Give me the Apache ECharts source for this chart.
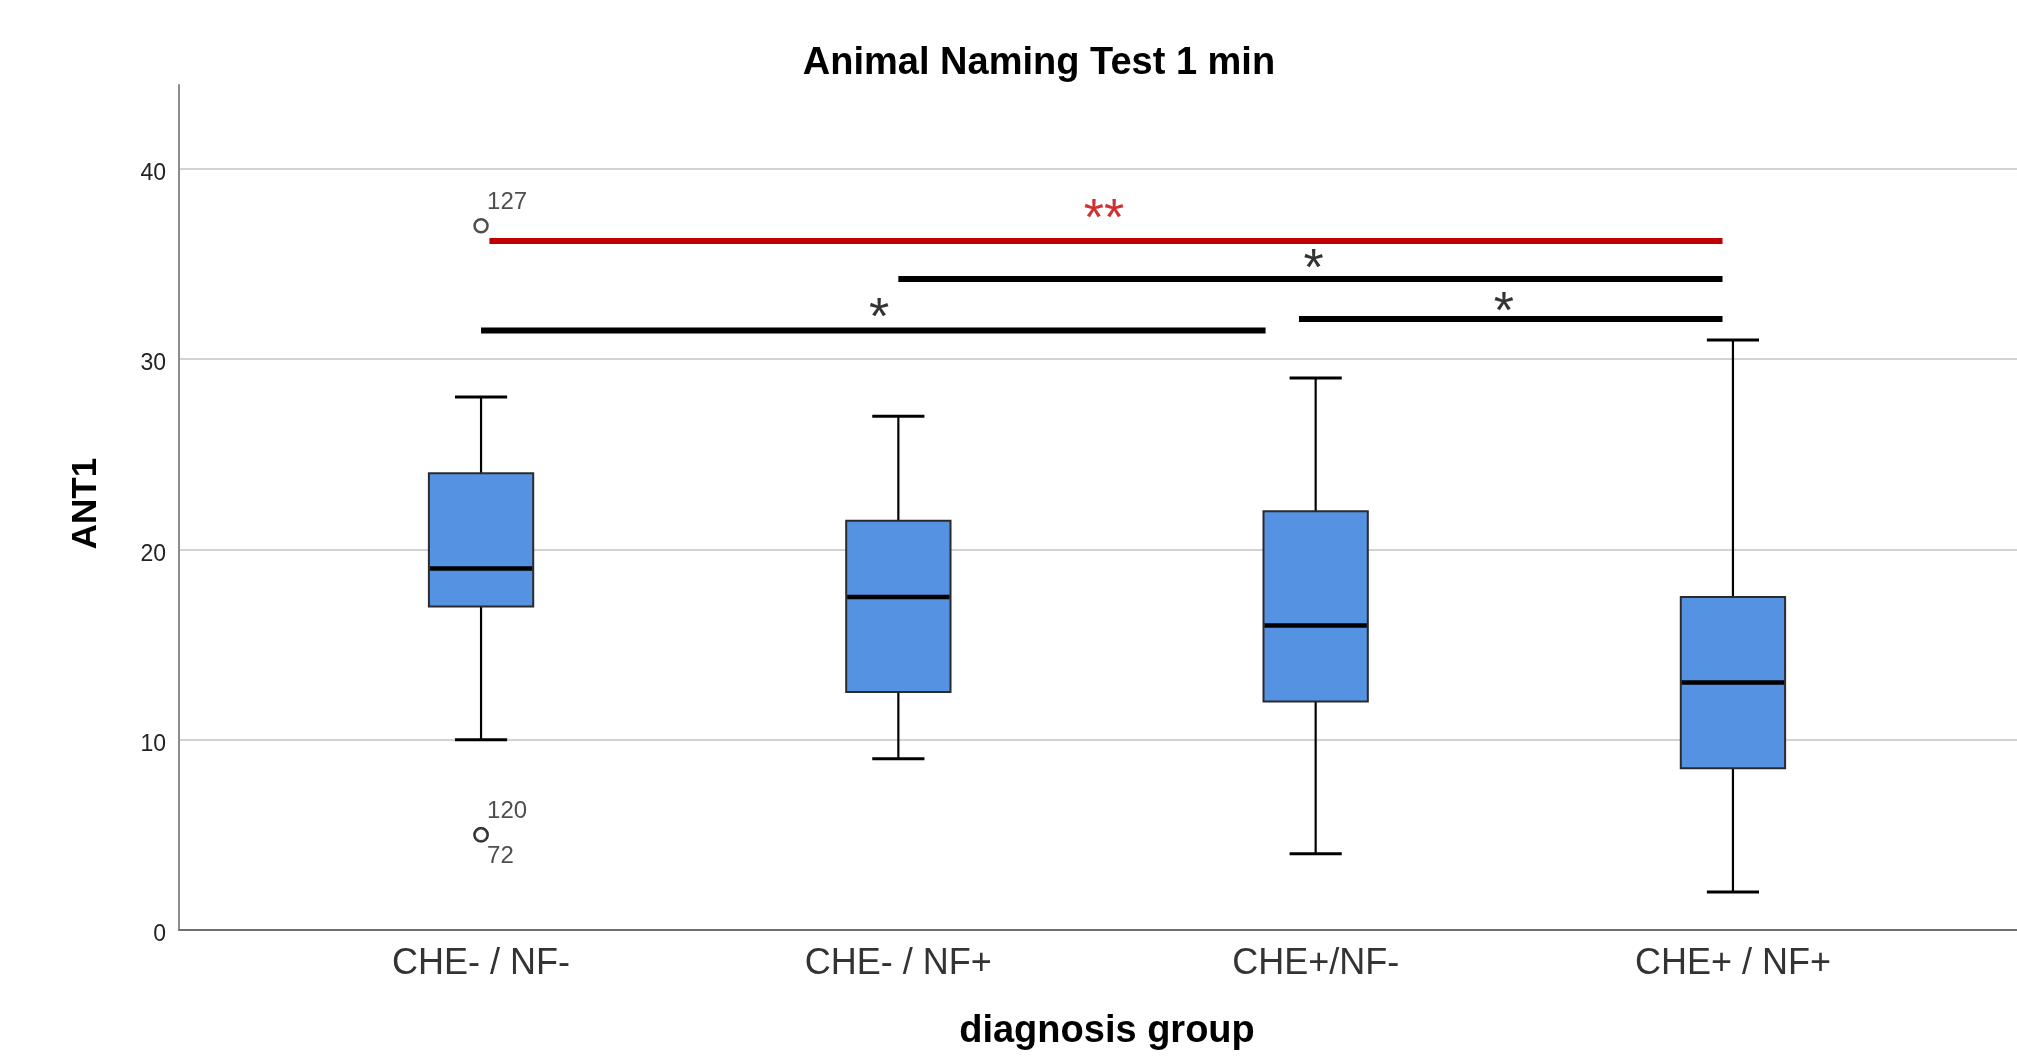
<!DOCTYPE html>
<html>
<head>
<meta charset="utf-8">
<script src="https://cdn.jsdelivr.net/npm/echarts@6/dist/echarts.min.js"></script>
<style>
html,body{margin:0;padding:0;background:#fff;}
#c{width:2017px;height:1061px;}
</style>
</head>
<body>
<div id="c"></div>
<script>
// ---- data ----
const categories = ['CHE- / NF-', 'CHE- / NF+', 'CHE+/NF-', 'CHE+ / NF+'];
const whiskerLow  = [10, 9, 4, 2];
const q1          = [17, 12.5, 12, 8.5];
const median      = [19, 17.5, 16, 13];
const q3          = [24, 21.5, 22, 17.5];
const whiskerHigh = [28, 27, 29, 31];

const outlierGroup = [0, 0, 0];
const outlierValue = [37, 5, 5];
const outlierId    = ['127', '120', '72'];

const yTickValues = [0, 10, 20, 30, 40];

// significance bars (x in category-index units, y in ANT1 units)
const sigStart = [0.02, 1.0, 1.96, 0.0];
const sigEnd   = [2.975, 2.975, 2.975, 1.88];
const sigLevel = [36.2, 34.2, 32.1, 31.5];
const sigMark  = ['**', '*', '*', '*'];
const sigMarkX = [1.493, 1.995, 2.451, 0.954];
const sigMarkY = [37.98, 35.35, 33.09, 32.74];
const sigColor = ['#c00000', '#000000', '#000000', '#000000'];

// ---- chart ----
const FONT = '"Liberation Sans", Arial, sans-serif';
const Y_MAX = 44.4;
const chart = echarts.init(document.getElementById('c'), null, {renderer: 'canvas'});

const boxData = categories.map((c, i) => [i, whiskerLow[i], q1[i], median[i], q3[i], whiskerHigh[i]]);
const outlierData = outlierId.map((id, k) => ({
  value: [outlierGroup[k], outlierValue[k]],
  name: id,
  label: {offset: k === 2 ? [6, 22] : [6, -23]}
}));

const sigSeries = sigLevel.map((lv, k) => ({
  type: 'line',
  xAxisIndex: 2, yAxisIndex: 1,
  data: [[sigStart[k], lv], [sigEnd[k], lv]],
  symbol: 'none',
  lineStyle: {color: sigColor[k], width: 6, cap: 'butt'},
  silent: true, z: 4
}));

const sigTextSeries = {
  type: 'scatter',
  xAxisIndex: 2, yAxisIndex: 1,
  symbolSize: 0,
  data: sigMark.map((m, k) => ({
    value: [sigMarkX[k], sigMarkY[k]],
    name: m,
    label: {color: sigColor[k]}
  })),
  label: {
    show: true, position: 'inside',
    formatter: p => p.name,
    fontFamily: FONT, fontSize: 52, align: 'center', verticalAlign: 'middle',
    offset: [0, 13]
  },
  silent: true, z: 5
};

const option = {
  backgroundColor: '#ffffff',
  animation: false,
  title: {
    text: 'Animal Naming Test 1 min',
    left: 1039, top: 45, padding: 0,
    textAlign: 'center', textVerticalAlign: 'top',
    textStyle: {fontFamily: FONT, fontSize: 38, fontWeight: 'bold', color: '#000'}
  },
  grid: [
    {left: 179, right: 0, top: 85, bottom: 131},
    {left: 272.4, right: 75.4, top: 85, bottom: 131}
  ],
  xAxis: [
    {
      gridIndex: 0, type: 'value', min: 0, max: 1,
      axisLine: {show: true, lineStyle: {color: '#707070', width: 2}},
      axisTick: {show: false}, axisLabel: {show: false}, splitLine: {show: false}
    },
    {
      gridIndex: 1, type: 'category', data: categories,
      axisLine: {show: false}, axisTick: {show: false}, splitLine: {show: false},
      axisLabel: {fontFamily: FONT, fontSize: 36, color: '#333', margin: 16},
      name: 'diagnosis group', nameLocation: 'middle', nameGap: 83,
      nameTextStyle: {fontFamily: FONT, fontSize: 38, fontWeight: 'bold', color: '#000', verticalAlign: 'top'}
    },
    {
      gridIndex: 1, type: 'value', min: -0.5, max: 3.5, show: false
    }
  ],
  yAxis: [
    {
      gridIndex: 0, type: 'value', min: yTickValues[0], max: Y_MAX, interval: 10,
      axisLine: {show: true, lineStyle: {color: '#8c8c8c', width: 2}},
      axisTick: {show: false},
      axisLabel: {
        fontFamily: FONT, fontSize: 23, color: '#222', margin: 13,
        showMaxLabel: false, verticalAlign: 'top', lineHeight: 10,
        formatter: v => (yTickValues.indexOf(v) >= 0 ? String(v) : '')
      },
      splitLine: {show: true, showMaxLine: false, showMinLine: false, lineStyle: {color: '#d2d2d2', width: 2}},
      name: 'ANT1', nameLocation: 'middle', nameGap: 93, nameRotate: 90,
      nameTextStyle: {fontFamily: FONT, fontSize: 35, fontWeight: 'bold', color: '#000', verticalAlign: 'middle', padding: [0, 0, 0, 8]}
    },
    {
      gridIndex: 1, type: 'value', min: yTickValues[0], max: Y_MAX, show: false
    }
  ],
  series: [
    {
      type: 'custom',
      xAxisIndex: 1, yAxisIndex: 1,
      data: boxData,
      encode: {x: 0, y: [1, 2, 3, 4, 5]},
      z: 3,
      renderItem: function (params, api) {
        const i = api.value(0);
        const band = api.size([1, 0])[0];
        const bw = band * 0.25;
        const cw = bw / 2;
        const pLow = api.coord([i, api.value(1)]);
        const pQ1 = api.coord([i, api.value(2)]);
        const pMed = api.coord([i, api.value(3)]);
        const pQ3 = api.coord([i, api.value(4)]);
        const pHigh = api.coord([i, api.value(5)]);
        const x = pMed[0];
        const black = {stroke: '#000', lineWidth: 2.2};
        return {
          type: 'group',
          children: [
            {type: 'line', shape: {x1: x, y1: pLow[1], x2: x, y2: pQ1[1]}, style: black},
            {type: 'line', shape: {x1: x, y1: pQ3[1], x2: x, y2: pHigh[1]}, style: black},
            {type: 'line', shape: {x1: x - cw / 2, y1: pLow[1], x2: x + cw / 2, y2: pLow[1]}, style: {stroke: '#000', lineWidth: 3}},
            {type: 'line', shape: {x1: x - cw / 2, y1: pHigh[1], x2: x + cw / 2, y2: pHigh[1]}, style: {stroke: '#000', lineWidth: 3}},
            {type: 'rect', shape: {x: x - bw / 2, y: pQ3[1], width: bw, height: pQ1[1] - pQ3[1]},
              style: {fill: '#5592e2', stroke: '#2b2b2b', lineWidth: 2}},
            {type: 'line', shape: {x1: x - bw / 2 + 1, y1: pMed[1], x2: x + bw / 2 - 1, y2: pMed[1]}, style: {stroke: '#000', lineWidth: 4.5}}
          ]
        };
      }
    },
    {
      type: 'scatter',
      xAxisIndex: 1, yAxisIndex: 1,
      data: outlierData,
      symbol: 'circle', symbolSize: 13,
      itemStyle: {color: '#fff', borderColor: '#222', borderWidth: 2.5},
      label: {
        show: true, position: 'inside', align: 'left', verticalAlign: 'middle',
        formatter: p => p.name,
        fontFamily: FONT, fontSize: 24, color: '#222'
      },
      z: 5
    },
    ...sigSeries,
    sigTextSeries
  ]
};
chart.setOption(option);
</script>
</body>
</html>
